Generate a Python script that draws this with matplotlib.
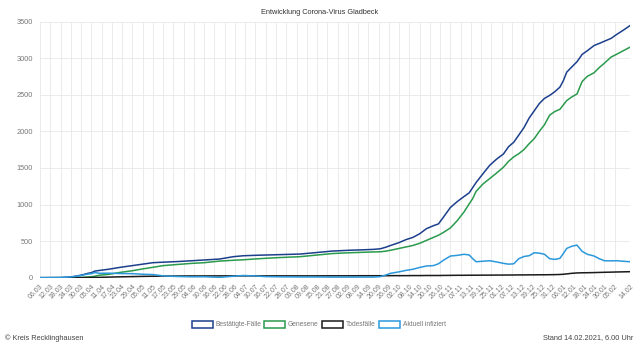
import matplotlib
matplotlib.use("Agg")
import matplotlib.pyplot as plt
import numpy as np
import pandas as pd

plt.rcParams['font.family'] = ['Liberation Sans', 'DejaVu Sans']

# days counted from 06.03.2020
tag = [0, 12, 18, 22, 25, 28, 30, 32, 35, 40, 47, 54, 60, 66, 72, 80, 89, 96,
       105, 113, 119, 125, 132, 140, 152, 160, 171, 181, 190, 195, 199, 202,
       205, 210, 214, 218, 222, 226, 230, 233, 236, 240, 244, 248, 251, 253,
       255, 259, 263, 267, 271, 274, 277, 280, 283, 286, 289, 292, 295, 298,
       301, 304, 306, 308, 311, 314, 317, 320, 324, 327, 330, 334, 337, 341, 345]

bestaetigt = [0, 2, 10, 25, 40, 60, 68, 90, 100, 115, 142, 165, 185, 205, 212,
              220, 232, 242, 255, 287, 300, 305, 310, 315, 323, 340, 364, 375,
              382, 387, 395, 415, 440, 480, 520, 550, 600, 670, 710, 735, 830,
              960, 1040, 1110, 1160, 1230, 1300, 1420, 1536, 1620, 1690, 1790,
              1850, 1950, 2050, 2180, 2280, 2380, 2450, 2490, 2540, 2603, 2690,
              2808, 2880, 2950, 3050, 3100, 3172, 3200, 3230, 3270, 3320, 3380, 3444]

genesen = [0, 0, 0, 3, 5, 10, 12, 20, 35, 45, 73, 95, 120, 142, 165, 180, 196,
           205, 227, 238, 245, 255, 265, 275, 287, 305, 330, 341, 348, 352, 354,
           362, 375, 400, 420, 440, 470, 510, 550, 580, 620, 680, 780, 900, 1010,
           1080, 1180, 1280, 1355, 1430, 1510, 1590, 1650, 1695, 1750, 1830,
           1900, 2000, 2090, 2220, 2270, 2300, 2360, 2420, 2470, 2510, 2680,
           2750, 2800, 2870, 2930, 3015, 3050, 3100, 3149]

tote = [0, 0, 0, 0, 1, 2, 3, 4, 5, 8, 12, 15, 18, 20, 22, 23, 24, 24, 25, 25,
        25, 25, 25, 25, 25, 25, 26, 26, 27, 27, 27, 27, 28, 28, 28, 29, 29, 30,
        30, 30, 31, 32, 33, 33, 34, 34, 34, 35, 35, 36, 36, 37, 37, 38, 38, 39,
        39, 40, 40, 41, 42, 44, 47, 52, 60, 65, 67, 68, 70, 72, 74, 76, 78, 80, 82]

aktuell = [0, 2, 10, 22, 35, 50, 55, 70, 60, 62, 57, 55, 47, 43, 25, 17, 12,
           13, 5, 20, 30, 25, 15, 12, 10, 10, 8, 8, 8, 8, 15, 35, 60, 80, 100,
           115, 140, 160, 165, 190, 240, 296, 305, 320, 310, 260, 218, 225, 232,
           215, 196, 185, 190, 260, 290, 300, 341, 335, 320, 260, 250, 264, 330,
           400, 430, 445, 360, 320, 296, 260, 232, 230, 232, 225, 218]

start = pd.Timestamp('2020-03-06')
ende = pd.Timestamp('2021-02-14')
n_tage = (ende - start).days
tick_tage = list(range(0, n_tage - 6, 6)) + [n_tage]
tick_labels = [(start + pd.Timedelta(days=d)).strftime('%d.%m') for d in tick_tage]

fig = plt.figure(figsize=(6.4, 3.49), dpi=100)
ax = fig.add_axes([40 / 640, 71.3 / 349, 590 / 640, 256.2 / 349])

serien = [
    ('Bestätigte-Fälle', bestaetigt, '#1c3f8c'),
    ('Genesene', genesen, '#2a9a4c'),
    ('Todesfälle', tote, '#1a1a1a'),
    ('Aktuell infiziert', aktuell, '#2b98dc'),
]
for name, werte, farbe in serien:
    ax.plot(tag, werte, color=farbe, lw=1.1, label=name, solid_joinstyle='round')

ax.set_xlim(0, n_tage)
ax.set_ylim(0, 3500)
ax.set_yticks(np.arange(0, 3501, 500))
ax.set_xticks(tick_tage)
ax.set_xticklabels(tick_labels, rotation=45, ha='right', rotation_mode='anchor')
ax.tick_params(axis='x', labelsize=5.0, colors='#777777', length=0, pad=4)
ax.tick_params(axis='y', labelsize=5.3, colors='#777777', length=0, pad=5)
ax.grid(True, color='#e8e8e8', lw=0.6)
ax.set_axisbelow(True)
for s in ax.spines.values():
    s.set_visible(False)

fig.text(0.5, 1 - 13 / 349, 'Entwicklung Corona-Virus Gladbeck', ha='center',
         va='center', fontsize=5.3, color='#333333')

# legend with Chart.js style boxes
leg_x = [192, 264, 322, 379]
for (name, werte, farbe), lx in zip(serien, leg_x):
    fig.patches.append(plt.Rectangle((lx / 640, 1 - 327.5 / 349), 21 / 640, 7 / 349,
                                     transform=fig.transFigure, facecolor='white',
                                     edgecolor=farbe, lw=1.1))
    fig.text((lx + 24) / 640, 1 - 324 / 349, name, ha='left', va='center',
             fontsize=4.8, color='#777777')

fig.text(5 / 640, 1 - 338 / 349, '© Kreis Recklinghausen', ha='left', va='center',
         fontsize=5.3, color='#444444')
fig.text(633 / 640, 1 - 338 / 349, 'Stand 14.02.2021, 6.00 Uhr', ha='right',
         va='center', fontsize=5.3, color='#444444')

fig.savefig('out.png', dpi=100)
